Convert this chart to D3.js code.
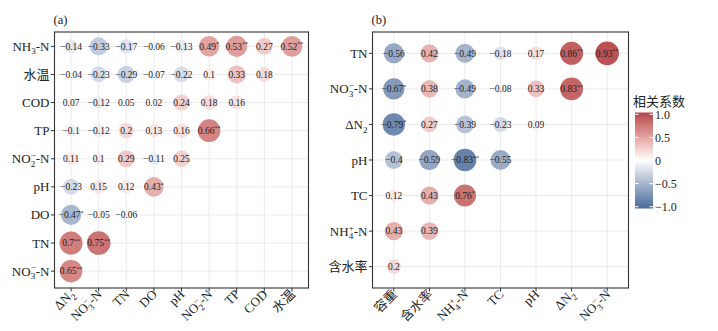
<!DOCTYPE html>
<html>
<head>
<meta charset="utf-8">
<script src="https://cdn.jsdelivr.net/npm/d3@7"></script>
<style>
  body { margin: 0; background: #fff; }
  svg text { font-family: "Liberation Serif", "DejaVu Serif", serif, "Noto Sans CJK SC"; fill: #222; }
</style>
</head>
<body>
<svg id="chart" width="718" height="331"></svg>
<script>
// labels use "_x" for subscript and "^x" for superscript
var rowsA = ["NH_3-N", "水温", "COD", "TP", "NO_2^−-N", "pH", "DO", "TN", "NO_3^−-N"];
var colsA = ["ΔN_2", "NO_3^−-N", "TN", "DO", "pH", "NO_2^−-N", "TP", "COD", "水温"];
var valsA = [
	[-0.14, -0.33, -0.17, -0.06, -0.13, 0.49, 0.53, 0.27, 0.52],
	[-0.04, -0.23, -0.29, -0.07, -0.22, 0.1, 0.33, 0.18],
	[0.07, -0.12, 0.05, 0.02, 0.24, 0.18, 0.16],
	[-0.1, -0.12, 0.2, 0.13, 0.16, 0.66],
	[0.11, 0.1, 0.29, -0.11, 0.25],
	[-0.23, 0.15, 0.12, 0.43],
	[-0.47, -0.05, -0.06],
	[0.7, 0.75],
	[0.65]
];
var starsA = [
	["", "", "", "", "", "*", "**", "", "**"],
	["", "", "", "", "", "", "", ""],
	["", "", "", "", "", "", ""],
	["", "", "", "", "", "**"],
	["", "", "", "", ""],
	["", "", "", "*"],
	["*", "", ""],
	["**", "**"],
	["**"]
];

var rowsB = ["TN", "NO_3^−-N", "ΔN_2", "pH", "TC", "NH_4^+-N", "含水率"];
var colsB = ["容重", "含水率", "NH_4^+-N", "TC", "pH", "ΔN_2", "NO_3^−-N"];
var valsB = [
	[-0.56, 0.42, -0.49, -0.18, 0.17, 0.86, 0.93],
	[-0.67, 0.38, -0.49, -0.08, 0.33, 0.83],
	[-0.79, 0.27, -0.39, -0.23, 0.09],
	[-0.4, -0.59, -0.83, -0.55],
	[0.12, 0.43, 0.76],
	[0.43, 0.39],
	[0.2]
];
var starsB = [
	["", "", "", "", "", "**", "**"],
	["*", "", "", "", "", "**"],
	["*", "", "", "", ""],
	["", "", "**", ""],
	["", "", "*"],
	["", ""],
	[""]
];

var legendTicks = [1, 0.5, 0, -0.5, -1];
var legendLabels = ["1.0", "0.5", "0", "\u22120.5", "\u22121.0"];

var svg = d3.select("#chart");
svg.append("rect").attr("width", 718).attr("height", 331).attr("fill", "#fff");

var color = d3.scaleLinear()
	.domain([-1, 0, 1])
	.range(["#476b99", "#ffffff", "#b5434a"])
	.interpolate(d3.interpolateLab);

function fmt(v) {
	return (v < 0 ? "\u2212" : "") + String(Math.abs(v));
}

// write a label with sub/superscripts into a text element
function richText(sel, label, size) {
	var shift = 0, prevSub = false;
	var small = size * 0.7;
	for (var i = 0; i < label.length; ++i) {
		var ch = label[i];
		if (ch === "_" || ch === "^") {
			var c = label[i + 1];
			i++;
			var target = ch === "_" ? size * 0.28 : -size * 0.36;
			var ts = sel.append("tspan").attr("font-size", small)
				.attr("dy", target - shift).text(c);
			if (ch === "^" && prevSub) ts.attr("dx", -small * 0.5);
			shift = target;
			prevSub = ch === "_";
		} else {
			// run of plain characters
			var j = i;
			while (j < label.length && label[j] !== "_" && label[j] !== "^") j++;
			sel.append("tspan").attr("dy", -shift).text(label.slice(i, j));
			shift = 0;
			prevSub = false;
			i = j - 1;
		}
	}
}

function drawPanel(opts) {
	var g = svg.append("g");
	var x = d3.scalePoint().domain(opts.cols).range([opts.left, opts.right]).padding(0.6);
	var y = d3.scalePoint().domain(opts.rows).range(opts.yRange).padding(0.6);
	var vmax = d3.max(opts.vals, function(r) { return d3.max(r, function(v) { return Math.abs(v); }); });
	var size = d3.scalePow().exponent(0.33).domain([0, vmax]).range([0, 11.8]);

	// grid
	g.selectAll(".gx").data(opts.cols).enter().append("line")
		.attr("x1", function(d) { return x(d); }).attr("x2", function(d) { return x(d); })
		.attr("y1", opts.top).attr("y2", opts.bottom)
		.attr("stroke", "#ebebeb").attr("stroke-width", 1);
	g.selectAll(".gy").data(opts.rows).enter().append("line")
		.attr("y1", function(d) { return y(d); }).attr("y2", function(d) { return y(d); })
		.attr("x1", opts.left).attr("x2", opts.right)
		.attr("stroke", "#ebebeb").attr("stroke-width", 1);

	var cells = [];
	opts.vals.forEach(function(row, i) {
		row.forEach(function(v, j) {
			cells.push({ row: opts.rows[i], col: opts.cols[j], v: v, star: opts.stars[i][j] });
		});
	});

	g.selectAll("circle").data(cells).enter().append("circle")
		.attr("cx", function(d) { return x(d.col); })
		.attr("cy", function(d) { return y(d.row); })
		.attr("r", function(d) { return size(Math.abs(d.v)); })
		.attr("fill", function(d) { return color(d.v); });

	var lab = g.selectAll(".val").data(cells).enter().append("text")
		.attr("class", "val")
		.attr("x", function(d) { return x(d.col); })
		.attr("y", function(d) { return y(d.row) + 3.3; })
		.attr("text-anchor", "middle")
		.attr("font-size", 9.5);
	lab.append("tspan").text(function(d) { return fmt(d.v); });
	lab.filter(function(d) { return d.star; })
		.append("tspan").attr("font-size", 6).attr("dy", -3.5)
		.text(function(d) { return d.star; });

	// frame
	g.append("rect")
		.attr("x", opts.left).attr("y", opts.top)
		.attr("width", opts.right - opts.left).attr("height", opts.bottom - opts.top)
		.attr("fill", "none").attr("stroke", "#333").attr("stroke-width", 1.1);

	// y ticks and labels
	opts.rows.forEach(function(r) {
		g.append("line").attr("x1", opts.left - 3.5).attr("x2", opts.left)
			.attr("y1", y(r)).attr("y2", y(r)).attr("stroke", "#333");
		var t = g.append("text").attr("x", opts.left - 5).attr("y", y(r) + 4.5)
			.attr("text-anchor", "end").attr("font-size", 13);
		richText(t, r, 13);
	});

	// x ticks and rotated labels
	opts.cols.forEach(function(c) {
		g.append("line").attr("x1", x(c)).attr("x2", x(c))
			.attr("y1", opts.bottom).attr("y2", opts.bottom + 3.5).attr("stroke", "#333");
		var t = g.append("text")
			.attr("transform", "translate(" + (x(c) + 4) + "," + (opts.bottom + 7) + ") rotate(-45)")
			.attr("text-anchor", "end").attr("dy", "0.75em")
			.attr("font-size", 13);
		richText(t, c, 13);
	});

	svg.append("text").attr("x", opts.left - 1).attr("y", 24)
		.attr("font-size", 12.5).text(opts.tag);
}

drawPanel({ rows: rowsA, cols: colsA, vals: valsA, stars: starsA, tag: "(a)",
	left: 54.5, right: 308.5, top: 32, bottom: 288, yRange: [29.5, 288] });
drawPanel({ rows: rowsB, cols: colsB, vals: valsB, stars: starsB, tag: "(b)",
	left: 372.5, right: 628.5, top: 32, bottom: 288, yRange: [32, 288] });

// colour bar legend
var defs = svg.append("defs");
var grad = defs.append("linearGradient").attr("id", "cbar")
	.attr("x1", 0).attr("y1", 1).attr("x2", 0).attr("y2", 0);
d3.range(0, 1.0001, 0.05).forEach(function(t) {
	grad.append("stop").attr("offset", t).attr("stop-color", color(-1 + 2 * t));
});
var barX = 635, barW = 18;
var ly = d3.scaleLinear().domain([-1, 1]).range([206.7, 114.3]);
svg.append("text").attr("x", 633).attr("y", 106)
	.attr("font-size", 13).text("相关系数");
svg.append("rect").attr("x", barX).attr("y", 112.5).attr("width", barW).attr("height", 96)
	.attr("fill", "url(#cbar)");
legendTicks.forEach(function(v, i) {
	svg.append("line").attr("x1", barX).attr("x2", barX + 3.6)
		.attr("y1", ly(v)).attr("y2", ly(v)).attr("stroke", "#fff");
	svg.append("line").attr("x1", barX + barW - 3.6).attr("x2", barX + barW)
		.attr("y1", ly(v)).attr("y2", ly(v)).attr("stroke", "#fff");
	svg.append("text").attr("x", barX + barW + 2).attr("y", ly(v) + 4.3)
		.attr("font-size", 12).text(legendLabels[i]);
});
</script>
</body>
</html>
